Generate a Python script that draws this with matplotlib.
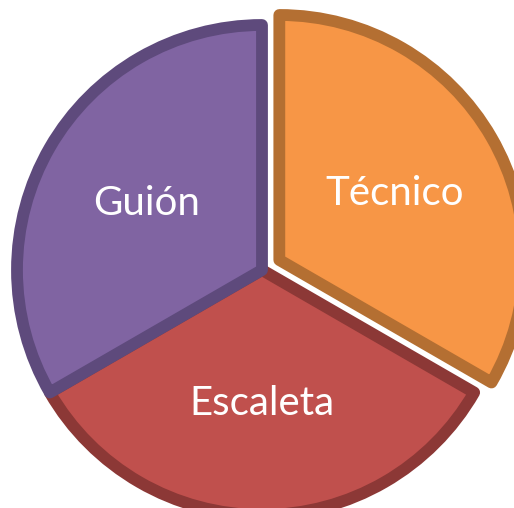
import matplotlib
matplotlib.use("Agg")
import matplotlib.pyplot as plt

# datos
labels = ["Guión", "Escaleta", "Técnico"]
sizes = [1, 1, 1]
fills = ["#8064A2", "#C0504D", "#F79646"]
edges = ["#5E4A7C", "#8C3836", "#B46F32"]
explode = [0, 0, 20]

fig = plt.figure(figsize=(5.14, 5.08), dpi=100)
ax = fig.add_axes([0, 0, 1, 1])

wedges, texts = ax.pie(sizes, labels=labels, colors=fills, explode=explode,
                       startangle=90, counterclock=True, radius=245,
                       center=(262, 238), labeldistance=0.545,
                       wedgeprops=dict(linewidth=8.5, joinstyle="round"),
                       textprops=dict(color="white", fontsize=29, family="Lato",
                                      ha="center", va="center"))
for w, ec, z in zip(wedges, edges, [3, 2, 2]):
    w.set_edgecolor(ec)
    w.set_zorder(z)
for t in texts:
    t.set_zorder(5)

ax.set_xlim(0, 514)
ax.set_ylim(0, 508)
ax.set_aspect("equal")
ax.axis("off")

fig.savefig("out.png", dpi=100)
